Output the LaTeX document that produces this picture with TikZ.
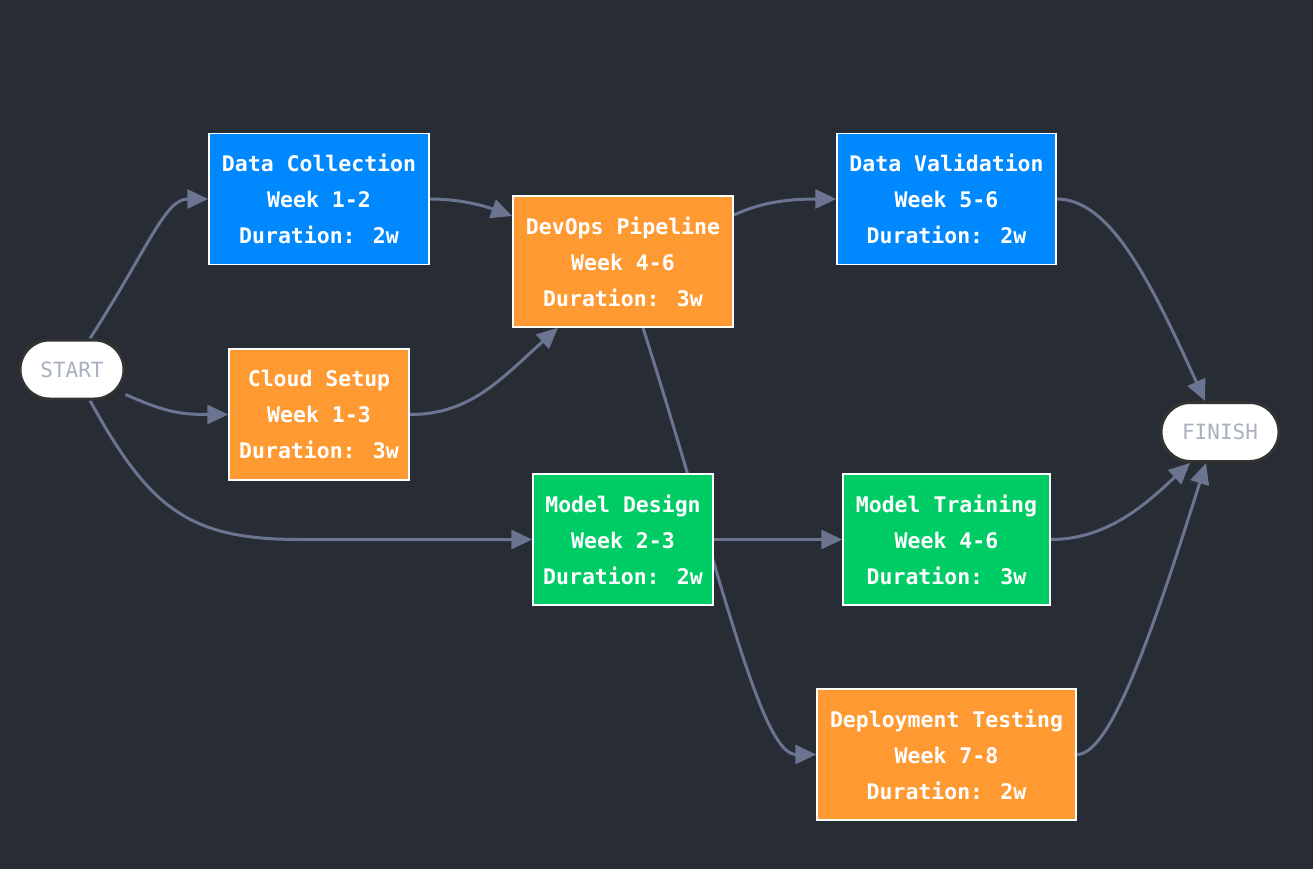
\documentclass[tikz,border=0pt]{standalone}
\usepackage{fontspec}
\newfontfamily\taskfont{DejaVu Sans Mono}
\usetikzlibrary{arrows.meta,backgrounds,shapes.misc}
\definecolor{bg}{HTML}{282C34}
\definecolor{edge}{HTML}{6B7591}
\definecolor{taskblue}{HTML}{0088FF}
\definecolor{taskorange}{HTML}{FF9A33}
\definecolor{taskgreen}{HTML}{00CC66}
\definecolor{termtext}{HTML}{A9B0BF}
\definecolor{termline}{HTML}{333333}
\tikzset{
task/.style={draw=white,line width=1.5pt,align=center,text=white,inner sep=0pt,minimum height=131pt,font=\taskfont\bfseries\fontsize{21.5}{36}\selectfont},
term/.style={draw=termline,line width=3pt,fill=white,rounded rectangle,minimum height=59pt,inner sep=0pt,text=termtext,font=\taskfont\fontsize{21}{24}\selectfont},
link/.style={draw=edge,line width=3pt,-{Triangle[length=21pt,width=19pt]}}
}
\begin{document}
\begin{tikzpicture}[x=1pt,y=1pt]
\useasboundingbox (0,0) rectangle (1313,-869);
\node[term,minimum width=104pt] (start) at (72,-369.5) {START};
\node[term,minimum width=118pt] (fin) at (1220,-432) {FINISH};
\node[task,fill=taskblue,minimum width=220pt] (dc) at (319,-199) {Data Collection\\Week 1-2\\Duration: 2w};
\node[task,fill=taskorange,minimum width=180pt] (cs) at (319,-414.5) {Cloud Setup\\Week 1-3\\Duration: 3w};
\node[task,fill=taskorange,minimum width=220pt] (dv) at (623,-261.5) {DevOps Pipeline\\Week 4-6\\Duration: 3w};
\node[task,fill=taskgreen,minimum width=180pt] (md) at (623,-539.5) {Model Design\\Week 2-3\\Duration: 2w};
\node[task,fill=taskblue,minimum width=219pt] (dval) at (946.5,-199) {Data Validation\\Week 5-6\\Duration: 2w};
\node[task,fill=taskgreen,minimum width=207pt] (mt) at (946.5,-539.5) {Model Training\\Week 4-6\\Duration: 3w};
\node[task,fill=taskorange,minimum width=259pt] (dt) at (946.5,-754.5) {Deployment Testing\\Week 7-8\\Duration: 2w};
\begin{pgfonlayer}{background}
\fill[bg] (0,0) rectangle (1313,-869);
\draw[link] ([xshift=18pt]start.north) .. controls (150,-245) and (165,-199) .. (dc.west);
\draw[link] ([yshift=-25pt]start.east) .. controls (165,-412) and (180,-414.5) .. (cs.west);
\draw[link] ([xshift=18pt]start.south) .. controls (150,-510) and (190,-539.5) .. (300,-539.5) -- (md.west);
\draw[link] (dc.east) .. controls (465,-199) and (490,-208) .. ([yshift=45.5pt]dv.west);
\draw[link] (cs.east) .. controls (470,-414.5) and (500,-380) .. ([xshift=-65pt]dv.south);
\draw[link] ([yshift=46.5pt]dv.east) .. controls (760,-203) and (785,-199) .. (dval.west);
\draw[link] ([xshift=20pt]dv.south) .. controls (720,-570) and (760,-754.5) .. (dt.west);
\draw[link] (md.east) -- (mt.west);
\draw[link] (dval.east) .. controls (1110,-199) and (1150,-280) .. ([xshift=-15pt]fin.north);
\draw[link] (mt.east) .. controls (1110,-539.5) and (1150,-500) .. ([xshift=-30pt]fin.south);
\draw[link] (dt.east) .. controls (1110,-754.5) and (1150,-640) .. ([xshift=-14pt]fin.south);
\end{pgfonlayer}
\end{tikzpicture}
\end{document}
